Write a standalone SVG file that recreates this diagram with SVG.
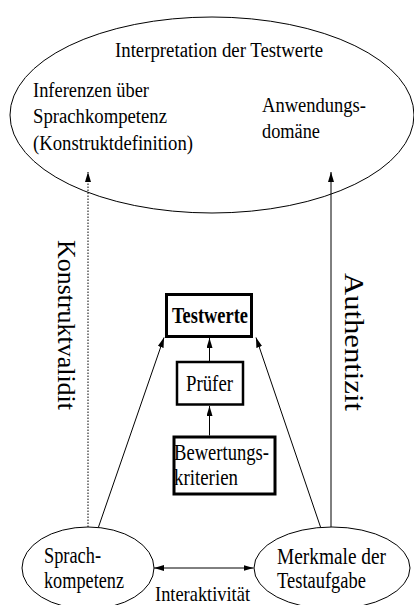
<svg xmlns="http://www.w3.org/2000/svg" width="414" height="605" viewBox="0 0 414 605">
<style>
text{font-family:"Liberation Serif","Times New Roman",serif;font-size:24px;fill:#000}
.t{font-size:20px}
.b{font-weight:bold;font-size:23px}
.m{text-anchor:middle}
.ell{fill:none;stroke:#000;stroke-width:1}
.box{fill:#fff;stroke:#000;stroke-width:3}
.ln{fill:none;stroke:#000;stroke-width:1}
.dot{stroke-dasharray:1.5 1.5}
</style>
<defs>
<marker id="ah" markerUnits="userSpaceOnUse" markerWidth="11" markerHeight="7" refX="10" refY="3" orient="auto-start-reverse">
<path d="M0,0 L10,3 L0,6 z" fill="#000"/>
</marker>
</defs>
<g id="interpretation">
<ellipse class="ell" cx="212" cy="115" rx="202" ry="98"/>
<text class="t" x="115" y="57" textLength="208" lengthAdjust="spacingAndGlyphs">Interpretation der Testwerte</text>
<text class="t" x="33" y="97" textLength="116" lengthAdjust="spacingAndGlyphs">Inferenzen über</text>
<text class="t" x="33" y="123" textLength="134" lengthAdjust="spacingAndGlyphs">Sprachkompetenz</text>
<text class="t" x="33" y="149.5" textLength="160" lengthAdjust="spacingAndGlyphs">(Konstruktdefinition)</text>
<text class="t" x="262" y="111.5" textLength="104" lengthAdjust="spacingAndGlyphs">Anwendungs-</text>
<text class="t" x="262" y="137.5" textLength="58" lengthAdjust="spacingAndGlyphs">domäne</text>
</g>
<g id="testwerte">
<rect class="box" x="166.5" y="294.5" width="85" height="42"/>
<text class="b m" x="210" y="323" textLength="76" lengthAdjust="spacingAndGlyphs">Testwerte</text>
</g>
<g id="pruefer">
<rect class="box" x="177" y="362" width="66" height="42.5" style="stroke-width:2.5"/>
<text class="m" x="209.5" y="391" textLength="47" lengthAdjust="spacingAndGlyphs">Prüfer</text>
</g>
<g id="bewertungskriterien">
<rect class="box" x="174" y="437" width="101" height="57"/>
<text x="174" y="460" textLength="95" lengthAdjust="spacingAndGlyphs">Bewertungs-</text>
<text x="174" y="485" textLength="64" lengthAdjust="spacingAndGlyphs">kriterien</text>
</g>
<g id="sprachkompetenz">
<ellipse class="ell" cx="88" cy="568" rx="66" ry="41"/>
<text x="44" y="563" textLength="57" lengthAdjust="spacingAndGlyphs">Sprach-</text>
<text x="44" y="588" textLength="80" lengthAdjust="spacingAndGlyphs">kompetenz</text>
</g>
<g id="merkmale">
<ellipse class="ell" cx="332" cy="568" rx="78" ry="41"/>
<text x="277" y="564" textLength="109" lengthAdjust="spacingAndGlyphs">Merkmale der</text>
<text x="277" y="588" textLength="89" lengthAdjust="spacingAndGlyphs">Testaufgabe</text>
</g>
<g id="connectors">
<line class="ln dot" x1="88" y1="527" x2="88" y2="172" marker-end="url(#ah)"/>
<line class="ln" x1="331" y1="527" x2="331" y2="172" marker-end="url(#ah)"/>
<line class="ln" x1="98.5" y1="527" x2="164" y2="337.5" marker-end="url(#ah)"/>
<line class="ln" x1="320.5" y1="527" x2="256" y2="337.5" marker-end="url(#ah)"/>
<line class="ln" x1="209.5" y1="435.5" x2="209.5" y2="406" marker-end="url(#ah)"/>
<line class="ln" x1="209.5" y1="361" x2="209.5" y2="338" marker-end="url(#ah)"/>
<line class="ln" x1="154" y1="568" x2="253.5" y2="568" marker-start="url(#ah)" marker-end="url(#ah)"/>
</g>
<g id="labels">
<text x="155" y="601" style="font-size:22px" textLength="95" lengthAdjust="spacingAndGlyphs">Interaktivität</text>
<text transform="translate(58,240) rotate(90)" style="font-size:26px" textLength="170" lengthAdjust="spacingAndGlyphs">Konstruktvalidit</text>
<text transform="translate(345,273) rotate(90)" style="font-size:27px" textLength="138" lengthAdjust="spacingAndGlyphs">Authentizit</text>
</g>
</svg>
